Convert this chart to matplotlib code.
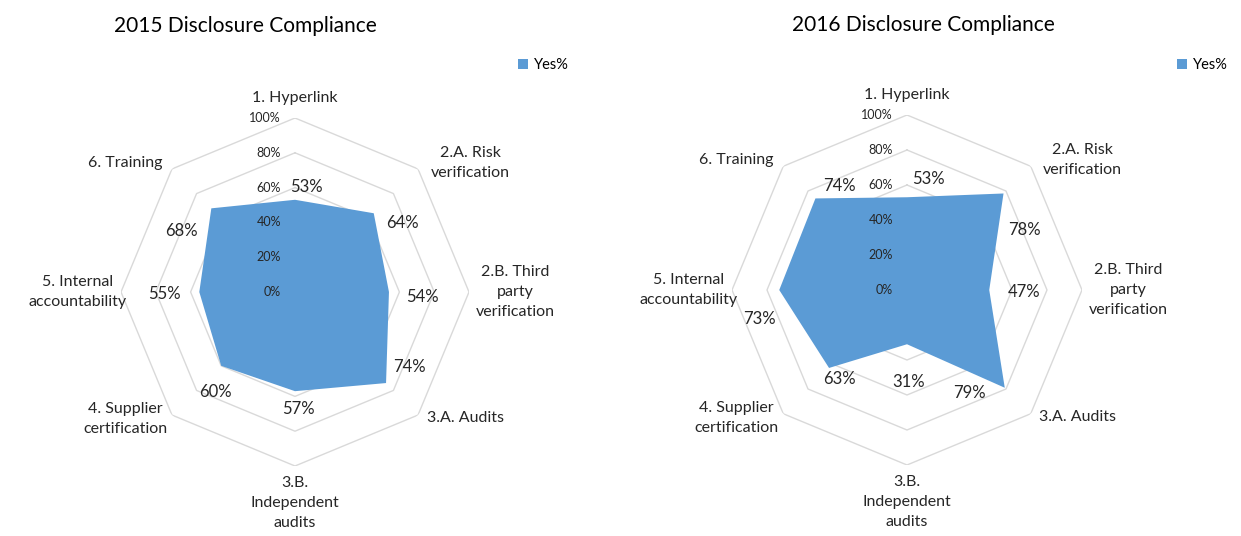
import numpy as np
import matplotlib
matplotlib.use("Agg")
import matplotlib.pyplot as plt
from matplotlib.patches import Patch

plt.rcParams['font.family'] = ['Lato', 'DejaVu Sans']

categories = ["1. Hyperlink", "2.A. Risk\nverification", "2.B. Third\nparty\nverification",
              "3.A. Audits", "3.B.\nIndependent\naudits", "4. Supplier\ncertification",
              "5. Internal\naccountability", "6. Training"]
yes_2015 = [53, 64, 54, 74, 57, 60, 55, 68]
yes_2016 = [53, 78, 47, 79, 31, 63, 73, 74]
ring_levels = [0, 20, 40, 60, 80, 100]
titles = ["2015 Disclosure Compliance", "2016 Disclosure Compliance"]
series_name = "Yes%"

BLUE = "#5B9BD5"
GRID = "#D9D9D9"
W, H = 1241, 536

fig = plt.figure(figsize=(W / 100, H / 100), dpi=100)

# offsets (pixels) for value labels, per chart
val_offsets = [
    [(11, 13), (29, -10), (33, -5), (23, 16), (3, -18), (-6, -26), (-35, -2), (-30, -23)],
    [(21, 18), (21, -37), (35, -2), (-35, -5), (2, -38), (10, -11), (-20, -29), (24, 12)],
]
cat_offsets = [(0, 20), (52, 6), (46, 0), (47, -3), (0, -37), (-47, -4), (-43, 0), (-47, 6)]

layout = [((295, 292), 174), ((907, 290), 175)]
title_pos = [(245, 26), (923, 25)]
legend_pos = [(518, 65), (1177, 65)]

n = len(categories)
theta = np.arange(n) * 2 * np.pi / n
theta_c = np.append(theta, theta[0])

for k, vals in enumerate([yes_2015, yes_2016]):
    (cx, cy), R = layout[k]
    ax = fig.add_axes([(cx - R) / W, (H - cy - R) / H, 2 * R / W, 2 * R / H], projection='polar')
    ax.set_theta_zero_location('N')
    ax.set_theta_direction(-1)
    ax.set_ylim(0, 100)
    ax.set_xticks([])
    ax.set_yticks([])
    ax.grid(False)
    ax.spines['polar'].set_visible(False)
    ax.patch.set_alpha(0)

    for lv in ring_levels[1:]:
        ax.plot(theta_c, [lv] * (n + 1), color=GRID, lw=1.0, zorder=1)

    v = np.append(vals, vals[0])
    ax.fill(theta_c, v, color=BLUE, lw=0, zorder=2)

    for lv in ring_levels:
        ax.annotate(f"{lv}%", xy=(0, lv), xytext=(-14, 0), textcoords='offset pixels',
                    ha='right', va='center', fontsize=9, color='#262626', zorder=3,
                    annotation_clip=False)

    for i, val in enumerate(vals):
        dx, dy = val_offsets[k][i]
        ax.annotate(f"{val}%", xy=(theta[i], val), xytext=(dx, dy), textcoords='offset pixels',
                    ha='center', va='center', fontsize=12, color='#262626', zorder=4,
                    annotation_clip=False)

    for i, cat in enumerate(categories):
        dx, dy = cat_offsets[i]
        ax.annotate(cat, xy=(theta[i], 100), xytext=(dx, dy), textcoords='offset pixels',
                    ha='center', va='center', fontsize=11.5, color='#262626',
                    linespacing=1.55, annotation_clip=False)

    tx, ty = title_pos[k]
    fig.text(tx / W, 1 - ty / H, titles[k], ha='center', va='center', fontsize=15, color='#000000')

    lx, ly = legend_pos[k]
    fig.legend(handles=[Patch(facecolor=BLUE, edgecolor='none', label=series_name)],
               loc='center left', bbox_to_anchor=(lx / W, 1 - ly / H), frameon=False,
               handlelength=0.7, handleheight=0.7, handletextpad=0.4, fontsize=10.5,
               borderaxespad=0, borderpad=0)

fig.savefig("out.png", dpi=100)
